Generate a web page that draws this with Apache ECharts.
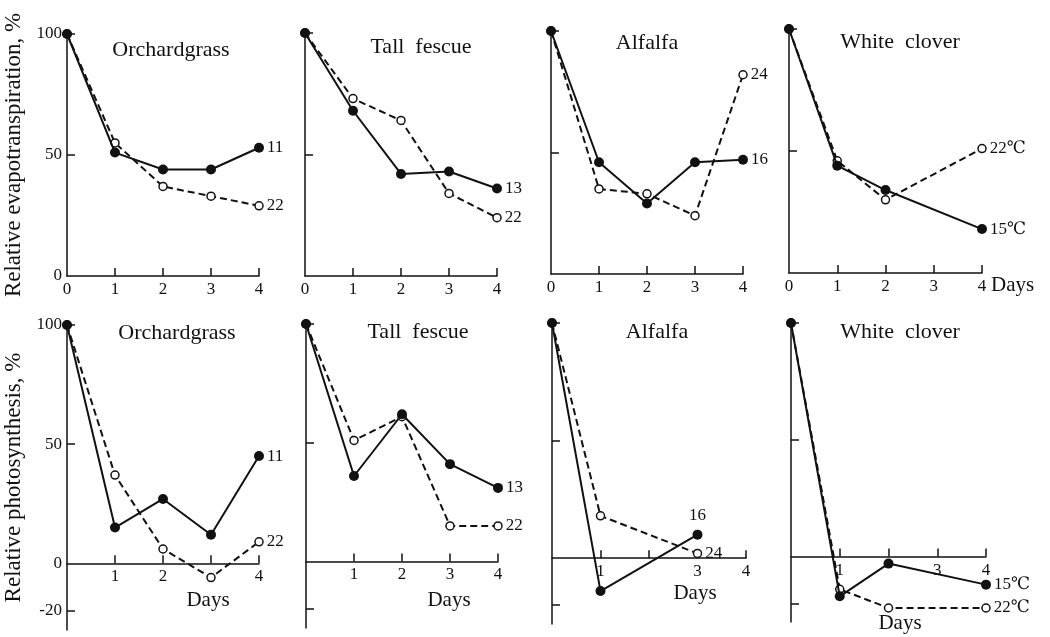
<!DOCTYPE html>
<html>
<head>
<meta charset="utf-8">
<script src="https://cdn.jsdelivr.net/npm/echarts@6/dist/echarts.min.js"></script>
<style>
  html, body { margin: 0; background: #fff; }
  #chart { width: 1050px; height: 637px; }
</style>
</head>
<body>
<div id="chart"></div>
<script>
// days sampled in each panel
const daysFull = [0, 1, 2, 3, 4];
const daysClover = [0, 1, 2, 4];
const daysAlfalfaPs = [0, 1, 3];

// relative evapotranspiration, % (solid = cool regime, dashed = warm regime)
const etOrchardSolid = [100, 51, 44, 44, 53];
const etOrchardDashed = [100, 55, 37, 33, 29];
const etFescueSolid = [100, 68, 42, 43, 36];
const etFescueDashed = [100, 73, 64, 34, 24];
const etAlfalfaSolid = [100, 46, 29, 46, 47];
const etAlfalfaDashed = [100, 35, 33, 24, 82];
const etCloverSolid = [100, 44, 34, 18];
const etCloverDashed = [100, 46, 30, 51];

// relative photosynthesis, %
const psOrchardSolid = [100, 15, 27, 12, 45];
const psOrchardDashed = [100, 37, 6, -6, 9];
const psFescueSolid = [100, 36, 62, 41, 31];
const psFescueDashed = [100, 51, 61, 15, 15];
const psAlfalfaSolid = [100, -14, 10];
const psAlfalfaDashed = [100, 18, 2];
const psCloverSolid = [100, -17, -3, -12];
const psCloverDashed = [100, -14, -22, -22];

// temperature labels at line ends
const solidTemps = ['11', '13', '16', '15℃'];
const dashedTemps = ['22', '22', '24', '22℃'];

const titles = ['Orchardgrass', 'Tall  fescue', 'Alfalfa', 'White  clover'];

const INK = '#111';
const SERIF = '"Liberation Serif", "DejaVu Serif", serif';

const panels = [
  { grid: { left: 67, top: 34, width: 192, height: 242 }, title: [171, 50], min: 0,
    days: daysFull, solid: etOrchardSolid, dashed: etOrchardDashed, t: 0,
    xLabels: [0, 1, 2, 3, 4], yName: 'Relative evapotranspiration, %' },
  { grid: { left: 305, top: 33, width: 192, height: 243 }, title: [421, 47], min: 0,
    days: daysFull, solid: etFescueSolid, dashed: etFescueDashed, t: 1,
    xLabels: [0, 1, 2, 3, 4] },
  { grid: { left: 551, top: 31, width: 192, height: 243 }, title: [647, 43], min: 0,
    days: daysFull, solid: etAlfalfaSolid, dashed: etAlfalfaDashed, t: 2,
    xLabels: [0, 1, 2, 3, 4] },
  { grid: { left: 789, top: 29, width: 193, height: 244 }, title: [900, 42], min: 0,
    days: daysClover, solid: etCloverSolid, dashed: etCloverDashed, t: 3,
    xLabels: [0, 1, 2, 3, 4] },
  { grid: { left: 67, top: 325, width: 192, height: 305 }, title: [177, 333], min: -28,
    days: daysFull, solid: psOrchardSolid, dashed: psOrchardDashed, t: 0,
    xLabels: [1, 2, 4], yName: 'Relative photosynthesis, %' },
  { grid: { left: 306, top: 324, width: 192, height: 304 }, title: [418, 332], min: -28,
    days: daysFull, solid: psFescueSolid, dashed: psFescueDashed, t: 1,
    xLabels: [1, 2, 3, 4] },
  { grid: { left: 552, top: 323, width: 194, height: 301 }, title: [657, 332], min: -28,
    days: daysAlfalfaPs, solid: psAlfalfaSolid, dashed: psAlfalfaDashed, t: 2,
    xLabels: [1, 3, 4], solidPos: 'top' },
  { grid: { left: 791, top: 323, width: 195, height: 299 }, title: [900, 332], min: -28,
    days: daysClover, solid: psCloverSolid, dashed: psCloverDashed, t: 3,
    xLabels: [1, 3, 4] }
];

const axisLine = { color: INK, width: 1.5 };

const grids = panels.map(p => p.grid);

// x axis sits on the zero line: shift it up from the grid bottom
const xAxes = panels.map((p, i) => ({
  gridIndex: i,
  type: 'value',
  min: 0,
  max: 4,
  interval: 1,
  offset: -(0 - p.min) / (100 - p.min) * p.grid.height,
  axisLine: { onZero: false, lineStyle: axisLine },
  axisTick: { inside: true, length: 8, lineStyle: axisLine, customValues: [1, 2, 3, 4] },
  axisLabel: { customValues: p.xLabels, color: INK, fontFamily: SERIF, fontSize: 17, margin: 5 },
  splitLine: { show: false }
}));

const yAxes = panels.map((p, i) => ({
  gridIndex: i,
  type: 'value',
  min: p.min,
  max: 100,
  name: p.yName || '',
  nameLocation: 'middle',
  nameRotate: 90,
  nameGap: 42,
  nameTextStyle: { color: INK, fontFamily: SERIF, fontSize: 23 },
  axisLine: { show: true, onZero: false, lineStyle: axisLine },
  axisTick: { show: true, inside: true, length: 8, lineStyle: axisLine,
    customValues: p.min < 0 ? [-20, 50, 100] : [50, 100] },
  axisLabel: { show: !!p.yName, customValues: p.min < 0 ? [-20, 0, 50, 100] : [0, 50, 100],
    color: INK, fontFamily: SERIF, fontSize: 17, margin: 5 },
  splitLine: { show: false }
}));

function lineSeries(idx, days, values, filled, text, pos) {
  const last = days.length - 1;
  return {
    type: 'line',
    xAxisIndex: idx,
    yAxisIndex: idx,
    data: days.map((d, k) => {
      const pt = { value: [d, values[k]] };
      if (k === last) {
        pt.label = { show: true, formatter: text, position: pos || 'right', distance: pos === 'top' ? 6 : 3 };
      }
      return pt;
    }),
    symbol: 'circle',
    symbolSize: filled ? 10 : 8,
    itemStyle: { color: filled ? INK : '#fff', borderColor: INK, borderWidth: filled ? 0 : 1.5 },
    lineStyle: { color: INK, width: 2, type: filled ? 'solid' : [7, 4] },
    label: { color: INK, fontFamily: SERIF, fontSize: 17 },
    z: filled ? 3 : 2,
    silent: true,
    animation: false
  };
}

const series = [];
panels.forEach((p, i) => {
  series.push(lineSeries(i, p.days, p.dashed, false, dashedTemps[p.t]));
  series.push(lineSeries(i, p.days, p.solid, true, solidTemps[p.t], p.solidPos));
});

const txt = (text, x, y, size, align) => ({
  type: 'text', x: x, y: y, silent: true,
  style: { text: text, fill: INK, font: size + 'px ' + SERIF,
    align: align || 'center', verticalAlign: 'middle',
    textAlign: align || 'center', textVerticalAlign: 'middle' }
});

const graphic = panels.map(p => txt(titles[p.t], p.title[0], p.title[1], 22));
graphic.push(txt('Days', 991, 285, 21, 'left'));
graphic.push(txt('Days', 208, 600, 21));
graphic.push(txt('Days', 449, 600, 21));
graphic.push(txt('Days', 695, 593, 21));
graphic.push(txt('Days', 900, 623, 21));

const chart = echarts.init(document.getElementById('chart'));
chart.setOption({
  backgroundColor: '#fff',
  animation: false,
  grid: grids,
  xAxis: xAxes,
  yAxis: yAxes,
  series: series,
  graphic: graphic
});
</script>
</body>
</html>
